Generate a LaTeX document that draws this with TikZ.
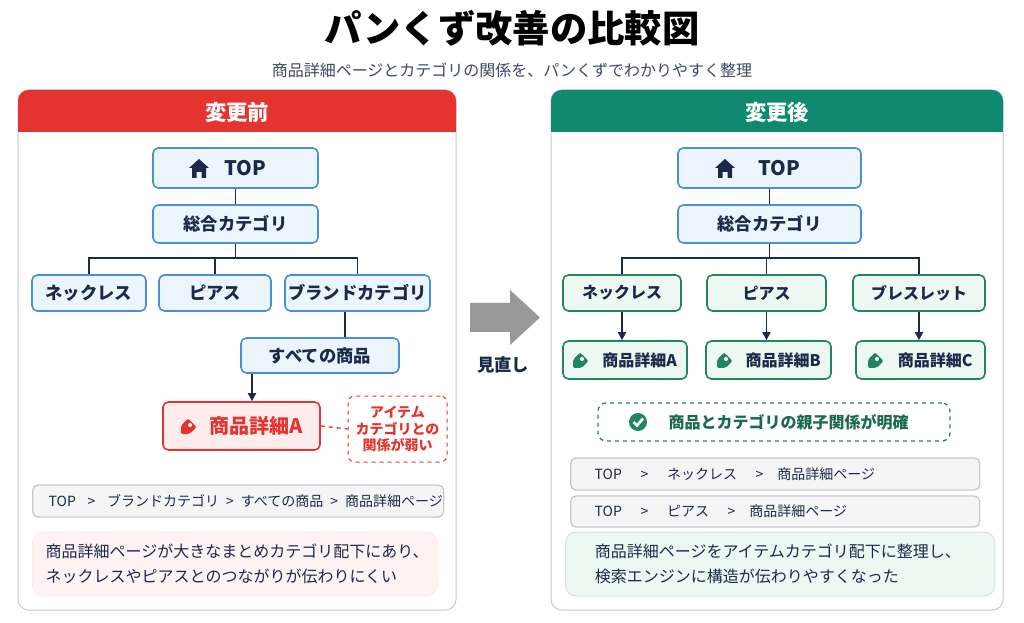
\documentclass[tikz,border=0pt]{standalone}
\usepackage{fontspec}
\setmainfont{Noto Sans CJK JP}
\usetikzlibrary{arrows.meta}
\definecolor{navy}{RGB}{27,42,74}
\definecolor{bblue}{RGB}{74,144,217}
\definecolor{fblue}{RGB}{236,245,253}
\definecolor{rred}{RGB}{229,52,48}
\definecolor{fred}{RGB}{253,236,236}
\definecolor{ggreen}{RGB}{33,133,95}
\definecolor{hgreen}{RGB}{16,138,110}
\definecolor{fgreen}{RGB}{238,248,243}
\definecolor{gline}{RGB}{200,200,208}
\tikzset{every picture/.style={line width=0.75pt}}
\tikzset{
  bnode/.style={draw=bblue,fill=fblue,rounded corners=4pt,line width=1.2pt,text=navy,font=\bfseries\fontsize{13}{15}\selectfont,inner sep=0pt},
  gnode/.style={draw=ggreen,fill=fgreen,rounded corners=4pt,line width=1.2pt,text=navy,font=\bfseries\fontsize{12}{14}\selectfont,inner sep=0pt},
  crumb/.style={draw=gline,fill=black!4,rounded corners=4pt,line width=1pt,text=navy,font=\fontsize{10.5}{12}\selectfont,anchor=west,align=left,inner xsep=0pt,inner ysep=0pt},
  conn/.style={navy,line width=1.3pt},
  arr/.style={conn,-{Triangle[length=6pt,width=6pt]}}
}
\newcommand\tagicon[3]{\fill[#3,rounded corners=1.5pt] (#1-8,#2+8) -- (#1+0.5,#2+8) -- (#1+7.6,#2+0.9) -- (#1-0.9,#2-7.6) -- (#1-8,#2-0.5) -- cycle;
  \fill[white] (#1+1,#2-1) circle (2);}
\begin{document}
\begin{tikzpicture}[x=0.75pt,y=0.75pt,yscale=-1,xscale=1]
\useasboundingbox (0,0) rectangle (1024,623);
\fill[white] (0,0) rectangle (1024,623);
% title
\node (title) at (512,28) {\bfseries\fontsize{28}{32}\selectfont パンくず改善の比較図};
\node (sub) at (512,70) [text=navy!85] {\fontsize{12}{14}\selectfont 商品詳細ページとカテゴリの関係を、パンくずでわかりやすく整理};
% panels
\draw[gline,rounded corners=8pt,fill=white] (18,90) rectangle (456,610);
\fill[rred,rounded corners=8pt] (18,90) rectangle (456,132);
\fill[rred] (18,115) rectangle (456,132);
\node (hbefore) at (237,112) [white] {\bfseries\fontsize{16}{18}\selectfont 変更前};
\draw[gline,rounded corners=8pt,fill=white] (551,90) rectangle (1003,610);
\fill[hgreen,rounded corners=8pt] (551,90) rectangle (1003,132);
\fill[hgreen] (551,115) rectangle (1003,132);
\node (hafter) at (777,112) [white] {\bfseries\fontsize{16}{18}\selectfont 変更後};
% before tree
\node (ltop) [bnode,minimum width=165*0.75pt,minimum height=40*0.75pt] at (235.5,168) {\fontsize{15}{17}\selectfont\quad TOP};
\fill[navy] (189,168) -- (199,159) -- (209,168) -- (206,168) -- (206,178) -- (201.5,178) -- (201.5,172) -- (196.5,172) -- (196.5,178) -- (192,178) -- (192,168) -- cycle;
\node (lcat) [bnode,minimum width=165*0.75pt,minimum height=38*0.75pt] at (235.5,224) {総合カテゴリ};
\node (lneck) [bnode,minimum width=114*0.75pt,minimum height=36*0.75pt] at (89,293) {ネックレス};
\node (lpier) [bnode,minimum width=112*0.75pt,minimum height=36*0.75pt] at (215,293) {ピアス};
\node (lbrand) [bnode,minimum width=145*0.75pt,minimum height=36*0.75pt] at (357.5,293) {ブランドカテゴリ};
\node (lall) [bnode,minimum width=158*0.75pt,minimum height=35*0.75pt] at (320,355.5) {すべての商品};
\node (lprod) [bnode,draw=rred,fill=fred,text=rred,minimum width=157*0.75pt,minimum height=48*0.75pt] at (241.5,426) {\fontsize{15}{17}\selectfont\hspace{22pt}商品詳細A};
\tagicon{189}{426}{rred}
\node (lnote) [draw=rred,dashed,fill=white,rounded corners=5pt,minimum width=99*0.75pt,minimum height=66*0.75pt,text=rred,align=center,font=\bfseries\fontsize{10.5}{12.5}\selectfont,inner sep=0pt] at (397.5,429) {アイテム\\カテゴリとの\\関係が弱い};
\draw[conn] (ltop) -- (lcat);
\draw[conn] (lcat.south) -- (235.5,258) coordinate (lj);
\draw[conn] (lneck.north) |- (lj) -| (lbrand.north);
\draw[conn] (lpier.north) -- (lpier.north |- lj);
\draw[conn] (lbrand.south -| lall.north) ++(25,0) coordinate (lb) -- (lb |- lall.north);
\draw[arr] (lall.south -| 252,0) -- (lprod.north -| 252,0);
\draw[rred,dashed,line width=1pt] (lprod.east) -- (lnote.west);
\node (lcrumb) [crumb,text width=411*0.75pt,minimum height=32*0.75pt] at (32,501) {\hspace{12pt}TOP\enspace\ >\enspace\ ブランドカテゴリ\enspace >\enspace すべての商品\enspace >\enspace 商品詳細ページ};
\node (ltext) [fill=fred!70,draw=fred,rounded corners=8pt,anchor=west,minimum width=405*0.75pt,minimum height=64*0.75pt,text=navy,align=left,font=\fontsize{12}{19}\selectfont,inner sep=0pt] at (32,564) {\hspace{6pt}\parbox{290pt}{商品詳細ページが大きなまとめカテゴリ配下にあり、\\ネックレスやピアスとのつながりが伝わりにくい}};
% arrow
\fill[black!40] (470,303) -- (510,303) -- (510,290) -- (540,317.5) -- (510,345) -- (510,332) -- (470,332) -- cycle;
\node (review) at (503,365) [text=navy] {\bfseries\fontsize{13}{15}\selectfont 見直し};
% after tree
\node (rtop) [bnode,minimum width=183*0.75pt,minimum height=40*0.75pt] at (769.5,168) {\fontsize{15}{17}\selectfont\quad TOP};
\fill[navy] (715,168) -- (725,159) -- (735,168) -- (732,168) -- (732,178) -- (727.5,178) -- (727.5,172) -- (722.5,172) -- (722.5,178) -- (718,178) -- (718,168) -- cycle;
\node (rcat) [bnode,minimum width=183*0.75pt,minimum height=38*0.75pt] at (769.5,224) {総合カテゴリ};
\node (rneck) [gnode,minimum width=118*0.75pt,minimum height=36*0.75pt] at (622,293) {ネックレス};
\node (rpier) [gnode,minimum width=119*0.75pt,minimum height=36*0.75pt] at (766.5,293) {ピアス};
\node (rbrace) [gnode,minimum width=132*0.75pt,minimum height=36*0.75pt] at (919,293) {ブレスレット};
\node (rpa) [gnode,minimum width=124*0.75pt,minimum height=38*0.75pt] at (625,360) {\hspace{22pt}商品詳細A};
\node (rpb) [gnode,minimum width=125*0.75pt,minimum height=38*0.75pt] at (768.5,360) {\hspace{22pt}商品詳細B};
\node (rpc) [gnode,minimum width=129*0.75pt,minimum height=38*0.75pt] at (920.5,360) {\hspace{22pt}商品詳細C};
\tagicon{581}{360}{ggreen}
\tagicon{725}{360}{ggreen}
\tagicon{876}{360}{ggreen}
\draw[conn] (rtop) -- (rcat);
\draw[conn] (rcat.south) -- (769.5,258) coordinate (rj);
\draw[conn] (rneck.north) |- (rj) -| (rbrace.north);
\draw[conn] (rpier.north) -- (rpier.north |- rj);
\draw[arr] (rneck) -- (rneck |- rpa.north);
\draw[arr] (rpier) -- (rpier |- rpb.north);
\draw[arr] (rbrace) -- (rbrace |- rpc.north);
\node (rclear) [draw=ggreen,dashed,fill=white,rounded corners=6pt,line width=1pt,minimum width=352*0.75pt,minimum height=38*0.75pt,text=ggreen!80!black,font=\bfseries\fontsize{12}{14}\selectfont,inner sep=0pt] at (774,422) {\hspace{22pt}商品とカテゴリの親子関係が明確};
\fill[ggreen] (638,422) circle (9);
\draw[white,line width=2pt] (633.5,422) -- (637,425.5) -- (643,418.5);
\node (rcrumb1) [crumb,text width=409*0.75pt,minimum height=32*0.75pt] at (570,474) {\hspace{18pt}TOP\quad\ >\quad\ ネックレス\quad\ >\quad 商品詳細ページ};
\node (rcrumb2) [crumb,text width=409*0.75pt,minimum height=31*0.75pt] at (570,511.5) {\hspace{18pt}TOP\quad\ >\quad\ ピアス\quad\ >\quad 商品詳細ページ};
\node (rtext) [fill=fgreen,draw=ggreen!20,rounded corners=8pt,anchor=west,minimum width=421*0.75pt,minimum height=64*0.75pt,text=navy,align=left,font=\fontsize{12}{19}\selectfont,inner sep=0pt] at (565,564) {\hspace{22pt}\parbox{300pt}{商品詳細ページをアイテムカテゴリ配下に整理し、\\検索エンジンに構造が伝わりやすくなった}};
\end{tikzpicture}
\end{document}
